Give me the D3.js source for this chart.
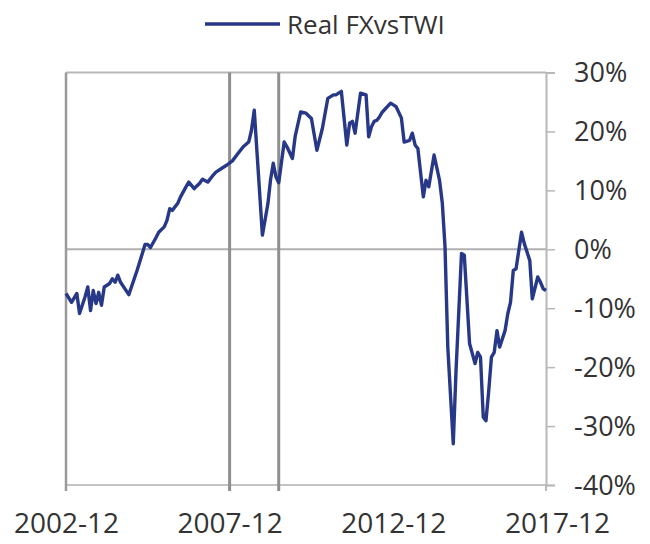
<!DOCTYPE html>
<html><head><meta charset="utf-8">
<script src="https://cdn.jsdelivr.net/npm/d3@7"></script>
<style>
html,body{margin:0;padding:0;background:#fff;}
svg{display:block;font-family:"Open Sans",sans-serif;}
</style></head>
<body><svg id="c" width="650" height="544"></svg>
<script>
const seriesName = "Real FXvsTWI";
const dates = ["2002-12","2003-02","2003-04","2003-05","2003-07","2003-08","2003-09","2003-10","2003-11","2003-12",
"2004-01","2004-02","2004-04","2004-05","2004-06","2004-07","2004-08","2004-11","2005-02","2005-04",
"2005-05","2005-06","2005-07","2005-09","2005-10","2005-12","2006-01","2006-02","2006-03","2006-05",
"2006-06","2006-08","2006-09","2006-11","2007-01","2007-02","2007-04","2007-06","2007-07","2007-09",
"2007-11","2008-01","2008-03","2008-05","2008-07","2008-08","2008-09","2008-12","2009-02","2009-03",
"2009-04","2009-05","2009-06","2009-08","2009-09","2009-11","2009-12","2010-02","2010-04","2010-06",
"2010-08","2010-10","2010-12","2011-02","2011-03","2011-05","2011-07","2011-08","2011-09","2011-10",
"2011-12","2012-02","2012-03","2012-04","2012-05","2012-06","2012-07","2012-08","2012-11","2013-01",
"2013-03","2013-04","2013-06","2013-07","2013-08","2013-09","2013-11","2013-12","2014-01","2014-03",
"2014-05","2014-06","2014-07","2014-08","2014-10","2014-11","2015-01","2015-02","2015-04","2015-06",
"2015-07","2015-08","2015-09","2015-10","2015-11","2015-12","2016-01","2016-02","2016-03","2016-05",
"2016-06","2016-07","2016-08","2016-09","2016-11","2016-12","2017-02","2017-03","2017-05","2017-06",
"2017-07","2017-08"];
const values = [-7.5,-9.0,-7.5,-10.9,-8.1,-6.4,-10.4,-7.0,-9.2,-7.3,
-9.5,-6.4,-5.8,-5.0,-5.6,-4.4,-5.6,-7.7,-3.6,-0.7,
0.8,0.8,0.3,2.0,2.9,3.8,4.9,6.9,6.6,7.8,
8.9,10.6,11.4,10.3,11.2,11.9,11.4,12.6,13.1,13.7,
14.3,15.0,16.2,17.4,18.2,20.2,23.6,2.4,7.8,11.7,
14.6,12.3,11.3,18.2,17.4,15.4,19.1,23.3,23.1,22.2,
16.8,20.5,25.6,26.2,26.2,26.8,17.7,21.4,21.7,19.7,
26.5,26.2,19.1,20.8,21.7,21.9,22.5,23.3,24.8,24.2,
22.3,18.2,18.5,19.7,17.7,17.1,8.9,11.7,10.6,16.0,
11.7,7.8,0.4,-16.6,-33.0,-20.6,-0.7,-1.0,-16.0,-19.4,
-17.5,-18.3,-28.5,-29.1,-24.0,-18.3,-17.5,-13.8,-16.6,-13.8,
-10.9,-9.0,-3.6,-3.3,2.9,1.0,-1.9,-8.4,-4.7,-5.6,
-6.7,-7.0];
const xTickLabels = ["2002-12","2007-12","2012-12","2017-12"];
const yTicks = [30,20,10,0,-10,-20,-30,-40];
const markerDates = ["2007-12","2009-06"];
const xStart = "2002-12", xEnd = "2017-08";

const parse = d3.timeParse("%Y-%m");
const data = dates.map((d,i)=>({date:parse(d), v:values[i]}));

const L=66, R=546, T=72.5, B=485;
const x = d3.scaleTime().domain([parse(xStart), parse(xEnd)]).range([L,R]);
const y = d3.scaleLinear().domain([-40,30]).range([B,T]);

const svg = d3.select("#c");
const g = svg.append("g");

g.append("line").attr("x1",L).attr("x2",R).attr("y1",y(30)).attr("y2",y(30))
 .attr("stroke","#b8b8b8").attr("stroke-width",2);
g.append("line").attr("x1",L).attr("x2",R).attr("y1",y(-40)).attr("y2",y(-40))
 .attr("stroke","#c4c4c4").attr("stroke-width",2);
g.append("line").attr("x1",L).attr("x2",R).attr("y1",y(0)).attr("y2",y(0))
 .attr("stroke","#b0b0b0").attr("stroke-width",2);

g.append("line").attr("x1",L).attr("x2",L).attr("y1",T).attr("y2",B+6)
 .attr("stroke","#9a9a9a").attr("stroke-width",2.5);
g.selectAll("line.mk").data(markerDates).join("line").attr("class","mk")
 .attr("x1",d=>x(parse(d))).attr("x2",d=>x(parse(d)))
 .attr("y1",T).attr("y2",B+6)
 .attr("stroke","#8f8f8f").attr("stroke-width",3);

const yAxis = d3.axisRight(y).tickValues(yTicks).tickSize(9).tickFormat(d=>d+"%");
const ya = g.append("g").attr("transform",`translate(${R},0)`).call(yAxis);
ya.select(".domain").attr("stroke","#b8b8b8").attr("stroke-width",2);
ya.selectAll(".tick line").attr("stroke","#b8b8b8").attr("stroke-width",1.5);
ya.selectAll(".tick text").attr("x",28).attr("dy","0.35em")
 .attr("fill","#333").style("font-size","27px").style("font-family","'Open Sans',sans-serif");
g.append("line").attr("x1",R).attr("x2",R).attr("y1",B).attr("y2",B+6)
 .attr("stroke","#b8b8b8").attr("stroke-width",2);

const xAxis = d3.axisBottom(x).tickValues(xTickLabels.map(parse)).tickSize(0)
 .tickFormat(d3.timeFormat("%Y-%m"));
const xa = g.append("g").attr("transform",`translate(0,${B})`).call(xAxis);
xa.select(".domain").remove();
xa.selectAll(".tick text").attr("y",48).attr("dy",0)
 .attr("fill","#333").style("font-size","28px").style("font-family","'Open Sans',sans-serif");

const line = d3.line().x(d=>x(d.date)).y(d=>y(d.v));
g.append("path").datum(data).attr("d",line).attr("fill","none")
 .attr("stroke","#283888").attr("stroke-width",3.4).attr("stroke-linejoin","round");

const lg = svg.append("g");
lg.append("line").attr("x1",205).attr("x2",280).attr("y1",24).attr("y2",24)
 .attr("stroke","#283888").attr("stroke-width",3.4);
lg.append("text").attr("x",287).attr("y",34).text(seriesName)
 .attr("fill","#333").style("font-size","26px");
</script></body></html>
